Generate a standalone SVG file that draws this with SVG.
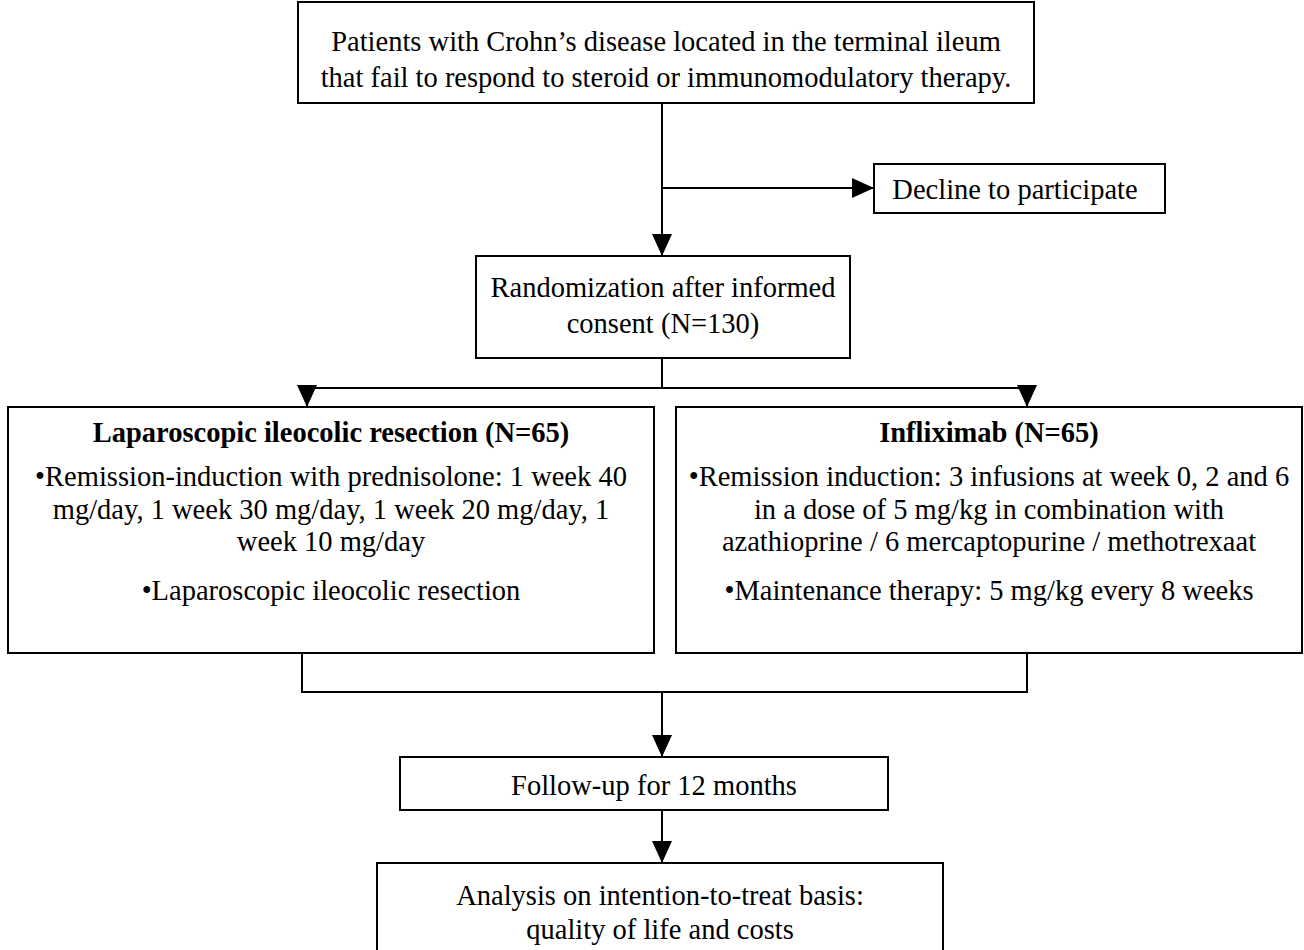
<svg xmlns="http://www.w3.org/2000/svg" width="1304" height="950" viewBox="0 0 1304 950">
<style>
.box{fill:#fff;stroke:#000;stroke-width:2}
.ln{fill:none;stroke:#000;stroke-width:2}
.t{font-family:"Liberation Serif","Times New Roman",serif;font-size:28.5px;fill:#000;text-anchor:middle}
.b{font-weight:bold}
</style>
<defs>
<marker id="ah" markerUnits="userSpaceOnUse" markerWidth="24" markerHeight="20" refX="22" refY="10" orient="auto">
<path d="M0,0 L22,10 L0,20 Z" fill="#000"/>
</marker>
</defs>
<rect width="1304" height="950" fill="#fff"/>
<g id="connectors">
<line class="ln" x1="662" y1="103" x2="662" y2="256" marker-end="url(#ah)"/>
<line class="ln" x1="662" y1="188" x2="874" y2="188" marker-end="url(#ah)"/>
<polyline class="ln" points="662,358 662,388 307,388 307,407" marker-end="url(#ah)"/>
<polyline class="ln" points="662,388 1027,388 1027,407" marker-end="url(#ah)"/>
<polyline class="ln" points="302,653 302,692 1027,692 1027,653"/>
<line class="ln" x1="662" y1="692" x2="662" y2="757" marker-end="url(#ah)"/>
<line class="ln" x1="662" y1="810" x2="662" y2="863" marker-end="url(#ah)"/>
</g>
<g id="n_patients">
<rect class="box" x="298" y="2" width="736" height="101"/>
<text class="t" x="666" y="51">Patients with Crohn’s disease located in the terminal ileum</text>
<text class="t" x="666" y="87">that fail to respond to steroid or immunomodulatory therapy.</text>
</g>
<g id="n_decline">
<rect class="box" x="874" y="164" width="291" height="49"/>
<text class="t" x="1015" y="199">Decline to participate</text>
</g>
<g id="n_random">
<rect class="box" x="476" y="256" width="374" height="102"/>
<text class="t" x="663" y="297">Randomization after informed</text>
<text class="t" x="663" y="333">consent (N=130)</text>
</g>
<g id="n_lap">
<rect class="box" x="8" y="407" width="646" height="246"/>
<text class="t b" x="331" y="442">Laparoscopic ileocolic resection (N=65)</text>
<text class="t" x="331" y="486">•Remission-induction with prednisolone: 1 week 40</text>
<text class="t" x="331" y="519">mg/day, 1 week 30 mg/day, 1 week 20 mg/day, 1</text>
<text class="t" x="331" y="551">week 10 mg/day</text>
<text class="t" x="331" y="600">•Laparoscopic ileocolic resection</text>
</g>
<g id="n_inflix">
<rect class="box" x="676" y="407" width="626" height="246"/>
<text class="t b" x="989" y="442">Infliximab (N=65)</text>
<text class="t" x="989" y="486">•Remission induction: 3 infusions at week 0, 2 and 6</text>
<text class="t" x="989" y="519">in a dose of 5 mg/kg in combination with</text>
<text class="t" x="989" y="551">azathioprine / 6 mercaptopurine / methotrexaat</text>
<text class="t" x="989" y="600">•Maintenance therapy: 5 mg/kg every 8 weeks</text>
</g>
<g id="n_follow">
<rect class="box" x="400" y="757" width="488" height="53"/>
<text class="t" x="654" y="795">Follow-up for 12 months</text>
</g>
<g id="n_analysis">
<rect class="box" x="377" y="863" width="566" height="100"/>
<text class="t" x="660" y="905">Analysis on intention-to-treat basis:</text>
<text class="t" x="660" y="939">quality of life and costs</text>
</g>
</svg>
